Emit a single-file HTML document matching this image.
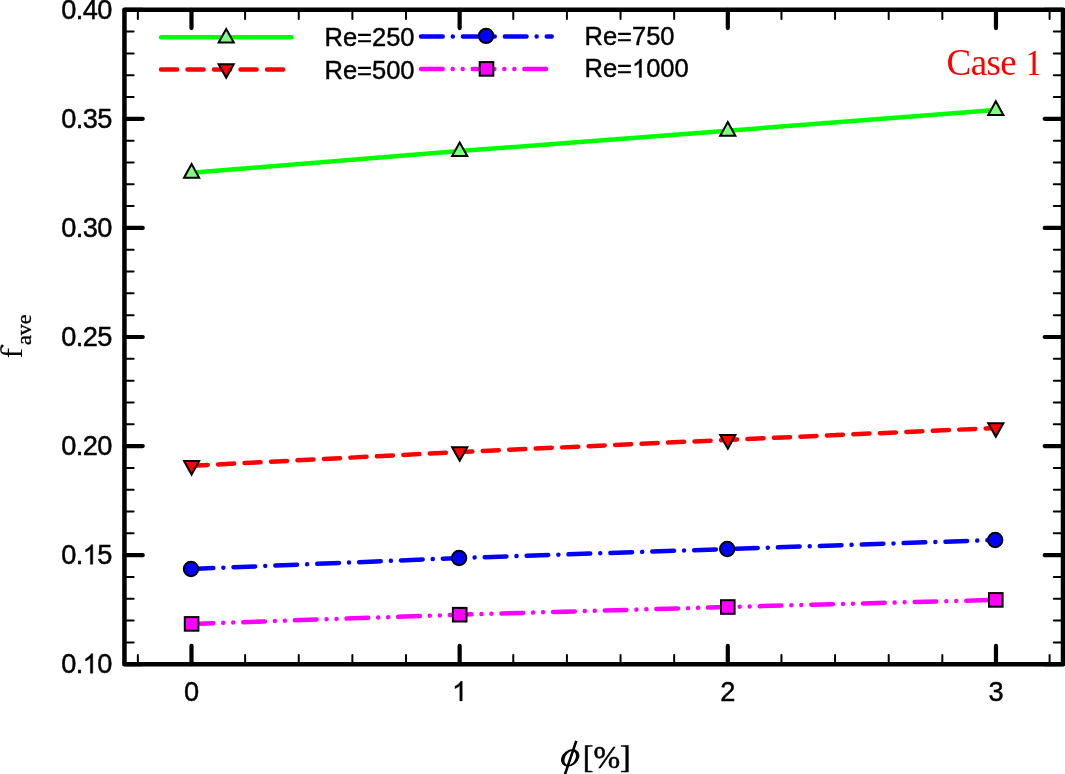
<!DOCTYPE html>
<html><head><meta charset="utf-8"><style>
html,body{margin:0;padding:0;background:#fff;}
body{width:1065px;height:774px;overflow:hidden;}
svg{display:block;}
svg{will-change:transform;}
</style></head><body>
<svg width="1065" height="774" viewBox="0 0 1065 774">

<rect x="124.45" y="9.8" width="938.55" height="654.4000000000001" fill="none" stroke="#000" stroke-width="4.5" stroke-linejoin="round"/>
<path d="M137.86 664.20V655.00M137.86 9.80V19.00M245.12 664.20V655.00M245.12 9.80V19.00M298.75 664.20V655.00M298.75 9.80V19.00M352.38 664.20V655.00M352.38 9.80V19.00M406.01 664.20V655.00M406.01 9.80V19.00M513.28 664.20V655.00M513.28 9.80V19.00M566.91 664.20V655.00M566.91 9.80V19.00M620.54 664.20V655.00M620.54 9.80V19.00M674.17 664.20V655.00M674.17 9.80V19.00M781.44 664.20V655.00M781.44 9.80V19.00M835.07 664.20V655.00M835.07 9.80V19.00M888.70 664.20V655.00M888.70 9.80V19.00M942.33 664.20V655.00M942.33 9.80V19.00M1049.59 664.20V655.00M1049.59 9.80V19.00M124.45 642.39H133.65M1063.00 642.39H1053.80M124.45 620.57H133.65M1063.00 620.57H1053.80M124.45 598.76H133.65M1063.00 598.76H1053.80M124.45 576.95H133.65M1063.00 576.95H1053.80M124.45 533.32H133.65M1063.00 533.32H1053.80M124.45 511.51H133.65M1063.00 511.51H1053.80M124.45 489.69H133.65M1063.00 489.69H1053.80M124.45 467.88H133.65M1063.00 467.88H1053.80M124.45 424.25H133.65M1063.00 424.25H1053.80M124.45 402.44H133.65M1063.00 402.44H1053.80M124.45 380.63H133.65M1063.00 380.63H1053.80M124.45 358.81H133.65M1063.00 358.81H1053.80M124.45 315.19H133.65M1063.00 315.19H1053.80M124.45 293.37H133.65M1063.00 293.37H1053.80M124.45 271.56H133.65M1063.00 271.56H1053.80M124.45 249.75H133.65M1063.00 249.75H1053.80M124.45 206.12H133.65M1063.00 206.12H1053.80M124.45 184.31H133.65M1063.00 184.31H1053.80M124.45 162.49H133.65M1063.00 162.49H1053.80M124.45 140.68H133.65M1063.00 140.68H1053.80M124.45 97.05H133.65M1063.00 97.05H1053.80M124.45 75.24H133.65M1063.00 75.24H1053.80M124.45 53.43H133.65M1063.00 53.43H1053.80M124.45 31.61H133.65M1063.00 31.61H1053.80" stroke="#000" stroke-width="2" stroke-linecap="round" fill="none"/>
<path d="M191.49 664.20V645.90M191.49 9.80V28.10M459.65 664.20V645.90M459.65 9.80V28.10M727.80 664.20V645.90M727.80 9.80V28.10M995.96 664.20V645.90M995.96 9.80V28.10M124.45 664.20H142.75M1063.00 664.20H1044.70M124.45 555.13H142.75M1063.00 555.13H1044.70M124.45 446.07H142.75M1063.00 446.07H1044.70M124.45 337.00H142.75M1063.00 337.00H1044.70M124.45 227.93H142.75M1063.00 227.93H1044.70M124.45 118.87H142.75M1063.00 118.87H1044.70M124.45 9.80H142.75M1063.00 9.80H1044.70" stroke="#000" stroke-width="4.2" stroke-linecap="round" fill="none"/>
<polyline points="191.60,172.70 459.70,151.10 727.80,130.70 995.80,109.90" fill="none" stroke="#00ff00" stroke-width="4.5" stroke-linecap="round" stroke-linejoin="round"/>
<polyline points="191.60,465.80 459.70,452.00 727.80,439.90 995.80,428.00" fill="none" stroke="#ff0000" stroke-width="4.5" stroke-linecap="round" stroke-linejoin="round" stroke-dasharray="16.1 10.4"/>
<polyline points="191.60,569.00 459.70,558.00 727.80,549.00 995.80,540.00" fill="none" stroke="#0000ff" stroke-width="4.5" stroke-linecap="round" stroke-linejoin="round" stroke-dasharray="21.7 10.1 0.01 10.1"/>
<polyline points="191.60,623.90 459.70,614.70 727.80,607.00 995.80,599.90" fill="none" stroke="#ff00ff" stroke-width="4.5" stroke-linecap="round" stroke-linejoin="round" stroke-dasharray="21.7 9.983 0.01 9.983 0.01 9.983"/>
<path d="M191.60 164.10L199.17 177.70L184.03 177.70Z" fill="#80ff80" stroke="#000" stroke-width="2"/>
<path d="M459.70 142.50L467.27 156.10L452.13 156.10Z" fill="#80ff80" stroke="#000" stroke-width="2"/>
<path d="M727.80 122.10L735.37 135.70L720.23 135.70Z" fill="#80ff80" stroke="#000" stroke-width="2"/>
<path d="M995.80 101.30L1003.37 114.90L988.23 114.90Z" fill="#80ff80" stroke="#000" stroke-width="2"/>
<path d="M191.60 474.60L199.17 461.00L184.03 461.00Z" fill="#ff0000" stroke="#000" stroke-width="2"/>
<path d="M459.70 460.80L467.27 447.20L452.13 447.20Z" fill="#ff0000" stroke="#000" stroke-width="2"/>
<path d="M727.80 448.70L735.37 435.10L720.23 435.10Z" fill="#ff0000" stroke="#000" stroke-width="2"/>
<path d="M995.80 436.80L1003.37 423.20L988.23 423.20Z" fill="#ff0000" stroke="#000" stroke-width="2"/>
<circle cx="191.00" cy="569.00" r="7.2" fill="#0000ff" stroke="#000" stroke-width="2"/>
<circle cx="459.10" cy="558.00" r="7.2" fill="#0000ff" stroke="#000" stroke-width="2"/>
<circle cx="727.20" cy="549.00" r="7.2" fill="#0000ff" stroke="#000" stroke-width="2"/>
<circle cx="995.20" cy="540.00" r="7.2" fill="#0000ff" stroke="#000" stroke-width="2"/>
<rect x="184.80" y="617.10" width="13.60" height="13.60" fill="#ff00ff" stroke="#000" stroke-width="2"/>
<rect x="452.90" y="607.90" width="13.60" height="13.60" fill="#ff00ff" stroke="#000" stroke-width="2"/>
<rect x="721.00" y="600.20" width="13.60" height="13.60" fill="#ff00ff" stroke="#000" stroke-width="2"/>
<rect x="989.00" y="593.10" width="13.60" height="13.60" fill="#ff00ff" stroke="#000" stroke-width="2"/>
<line x1="161.0" y1="37.2" x2="291.4" y2="37.2" stroke="#00ff00" stroke-width="4.5" stroke-linecap="round"/>
<line x1="161.0" y1="69.6" x2="291.4" y2="69.6" stroke="#ff0000" stroke-width="4.5" stroke-linecap="round" stroke-dasharray="16.1 10.4"/>
<path d="M226.20 29.00L233.77 42.60L218.63 42.60Z" fill="#80ff80" stroke="#000" stroke-width="2"/>
<path d="M226.20 77.80L233.77 64.20L218.63 64.20Z" fill="#ff0000" stroke="#000" stroke-width="2"/>
<line x1="421.0" y1="36.5" x2="551.7" y2="36.5" stroke="#0000ff" stroke-width="4.5" stroke-linecap="round" stroke-dasharray="21.7 10.1 0.01 10.1"/>
<line x1="421.0" y1="68.9" x2="551.7" y2="68.9" stroke="#ff00ff" stroke-width="4.5" stroke-linecap="round" stroke-dasharray="21.7 9.983 0.01 9.983 0.01 9.983"/>
<circle cx="486.10" cy="35.90" r="7.2" fill="#0000ff" stroke="#000" stroke-width="2"/>
<rect x="479.70" y="62.10" width="13.60" height="13.60" fill="#ff00ff" stroke="#000" stroke-width="2"/>
<g transform="translate(61.16,673.30)"><text transform="scale(1,1.04)" x="0.00 14.53 36.01" y="0" style="font-family:'Liberation Sans',sans-serif;font-size:27.2px" fill="#000" stroke="#000" stroke-width="0.45">0.0</text><path transform="translate(21.48,0) scale(0.013281,-0.013281)" d="M763 0H583V1147Q518 1085 412.5 1023Q307 961 223 930V1104Q375 1175 489 1276Q603 1377 650 1472H763Z" fill="#000" stroke="#000" stroke-width="33.9"/></g>
<g transform="translate(61.16,564.23)"><text transform="scale(1,1.04)" x="0.00 14.53 36.01" y="0" style="font-family:'Liberation Sans',sans-serif;font-size:27.2px" fill="#000" stroke="#000" stroke-width="0.45">0.5</text><path transform="translate(21.48,0) scale(0.013281,-0.013281)" d="M763 0H583V1147Q518 1085 412.5 1023Q307 961 223 930V1104Q375 1175 489 1276Q603 1377 650 1472H763Z" fill="#000" stroke="#000" stroke-width="33.9"/></g>
<g transform="translate(61.16,455.17)"><text transform="scale(1,1.04)" x="0.00 14.53 21.48 36.01" y="0" style="font-family:'Liberation Sans',sans-serif;font-size:27.2px" fill="#000" stroke="#000" stroke-width="0.45">0.20</text></g>
<g transform="translate(61.16,346.10)"><text transform="scale(1,1.04)" x="0.00 14.53 21.48 36.01" y="0" style="font-family:'Liberation Sans',sans-serif;font-size:27.2px" fill="#000" stroke="#000" stroke-width="0.45">0.25</text></g>
<g transform="translate(61.16,237.03)"><text transform="scale(1,1.04)" x="0.00 14.53 21.48 36.01" y="0" style="font-family:'Liberation Sans',sans-serif;font-size:27.2px" fill="#000" stroke="#000" stroke-width="0.45">0.30</text></g>
<g transform="translate(61.16,127.97)"><text transform="scale(1,1.04)" x="0.00 14.53 21.48 36.01" y="0" style="font-family:'Liberation Sans',sans-serif;font-size:27.2px" fill="#000" stroke="#000" stroke-width="0.45">0.35</text></g>
<g transform="translate(61.16,18.90)"><text transform="scale(1,1.04)" x="0.00 14.53 21.48 36.01" y="0" style="font-family:'Liberation Sans',sans-serif;font-size:27.2px" fill="#000" stroke="#000" stroke-width="0.45">0.40</text></g>
<g transform="translate(183.93,700.90)"><text transform="scale(1,1.04)" x="0.00" y="0" style="font-family:'Liberation Sans',sans-serif;font-size:27.2px" fill="#000" stroke="#000" stroke-width="0.45">0</text></g>
<g transform="translate(452.08,700.90)"><path transform="translate(0.00,0) scale(0.013281,-0.013281)" d="M763 0H583V1147Q518 1085 412.5 1023Q307 961 223 930V1104Q375 1175 489 1276Q603 1377 650 1472H763Z" fill="#000" stroke="#000" stroke-width="33.9"/></g>
<g transform="translate(720.24,700.90)"><text transform="scale(1,1.04)" x="0.00" y="0" style="font-family:'Liberation Sans',sans-serif;font-size:27.2px" fill="#000" stroke="#000" stroke-width="0.45">2</text></g>
<g transform="translate(988.40,700.90)"><text transform="scale(1,1.04)" x="0.00" y="0" style="font-family:'Liberation Sans',sans-serif;font-size:27.2px" fill="#000" stroke="#000" stroke-width="0.45">3</text></g>
<g transform="translate(324.50,45.60)"><text transform="scale(1,1.0)" x="0.00 18.42 32.60 47.49 61.67 75.85" y="0" style="font-family:'Liberation Sans',sans-serif;font-size:25.5px" fill="#000" stroke="#000" stroke-width="0.45">Re=250</text></g>
<g transform="translate(324.50,78.70)"><text transform="scale(1,1.0)" x="0.00 18.42 32.60 47.49 61.67 75.85" y="0" style="font-family:'Liberation Sans',sans-serif;font-size:25.5px" fill="#000" stroke="#000" stroke-width="0.45">Re=500</text></g>
<g transform="translate(584.50,45.20)"><text transform="scale(1,1.0)" x="0.00 18.42 32.60 47.49 61.67 75.85" y="0" style="font-family:'Liberation Sans',sans-serif;font-size:25.5px" fill="#000" stroke="#000" stroke-width="0.45">Re=750</text></g>
<g transform="translate(584.50,77.40)"><text transform="scale(1,1.0)" x="0.00 18.42 32.60 61.67 75.85 90.03" y="0" style="font-family:'Liberation Sans',sans-serif;font-size:25.5px" fill="#000" stroke="#000" stroke-width="0.45">Re=000</text><path transform="translate(47.49,0) scale(0.012451,-0.012451)" d="M763 0H583V1147Q518 1085 412.5 1023Q307 961 223 930V1104Q375 1175 489 1276Q603 1377 650 1472H763Z" fill="#000" stroke="#000" stroke-width="36.1"/></g>
<text x="946.6" y="75.1" fill="#ff0000" style="font-family:'Liberation Serif',serif;font-size:37px;letter-spacing:-0.6px">Case</text>
<path transform="translate(1024.8,75.1) scale(0.018066,-0.018066)" d="M600 80L790 53V0H231V53L430 80V1174L214 1090V1140L560 1352H600Z" fill="#ff0000"/>
<g transform="translate(570.2,757.8) skewX(-15)"><ellipse rx="8.9" ry="8.7" fill="#000"/><ellipse cx="0.1" cy="0.3" rx="5.4" ry="7.0" fill="#fff"/></g>
<line x1="576.3" y1="740.8" x2="564.6" y2="775.5" stroke="#000" stroke-width="2.6"/>
<text x="582.8" y="767.6" style="font-family:'Liberation Serif',serif;font-size:32px" stroke="#000" stroke-width="0.5">[%]</text>
<path transform="translate(22.0,358.3) rotate(-90) scale(0.015137,-0.015137)" d="M225 856H63V905L225 944V1010Q225 1250 330 1350Q420 1442 600 1442Q780 1442 870 1390Q920 1340 900 1270Q870 1210 800 1215Q730 1225 715 1290Q700 1345 600 1350Q443 1355 417 1300Q391 1250 391 1096V940H641V856H391V78L594 45V0H86V45L225 78Z" fill="#000"/>
<text transform="translate(30.7,344.9) rotate(-90)" style="font-family:'Liberation Serif',serif;font-size:22px" stroke="#000" stroke-width="0.35">ave</text>
</svg>
</body></html>
